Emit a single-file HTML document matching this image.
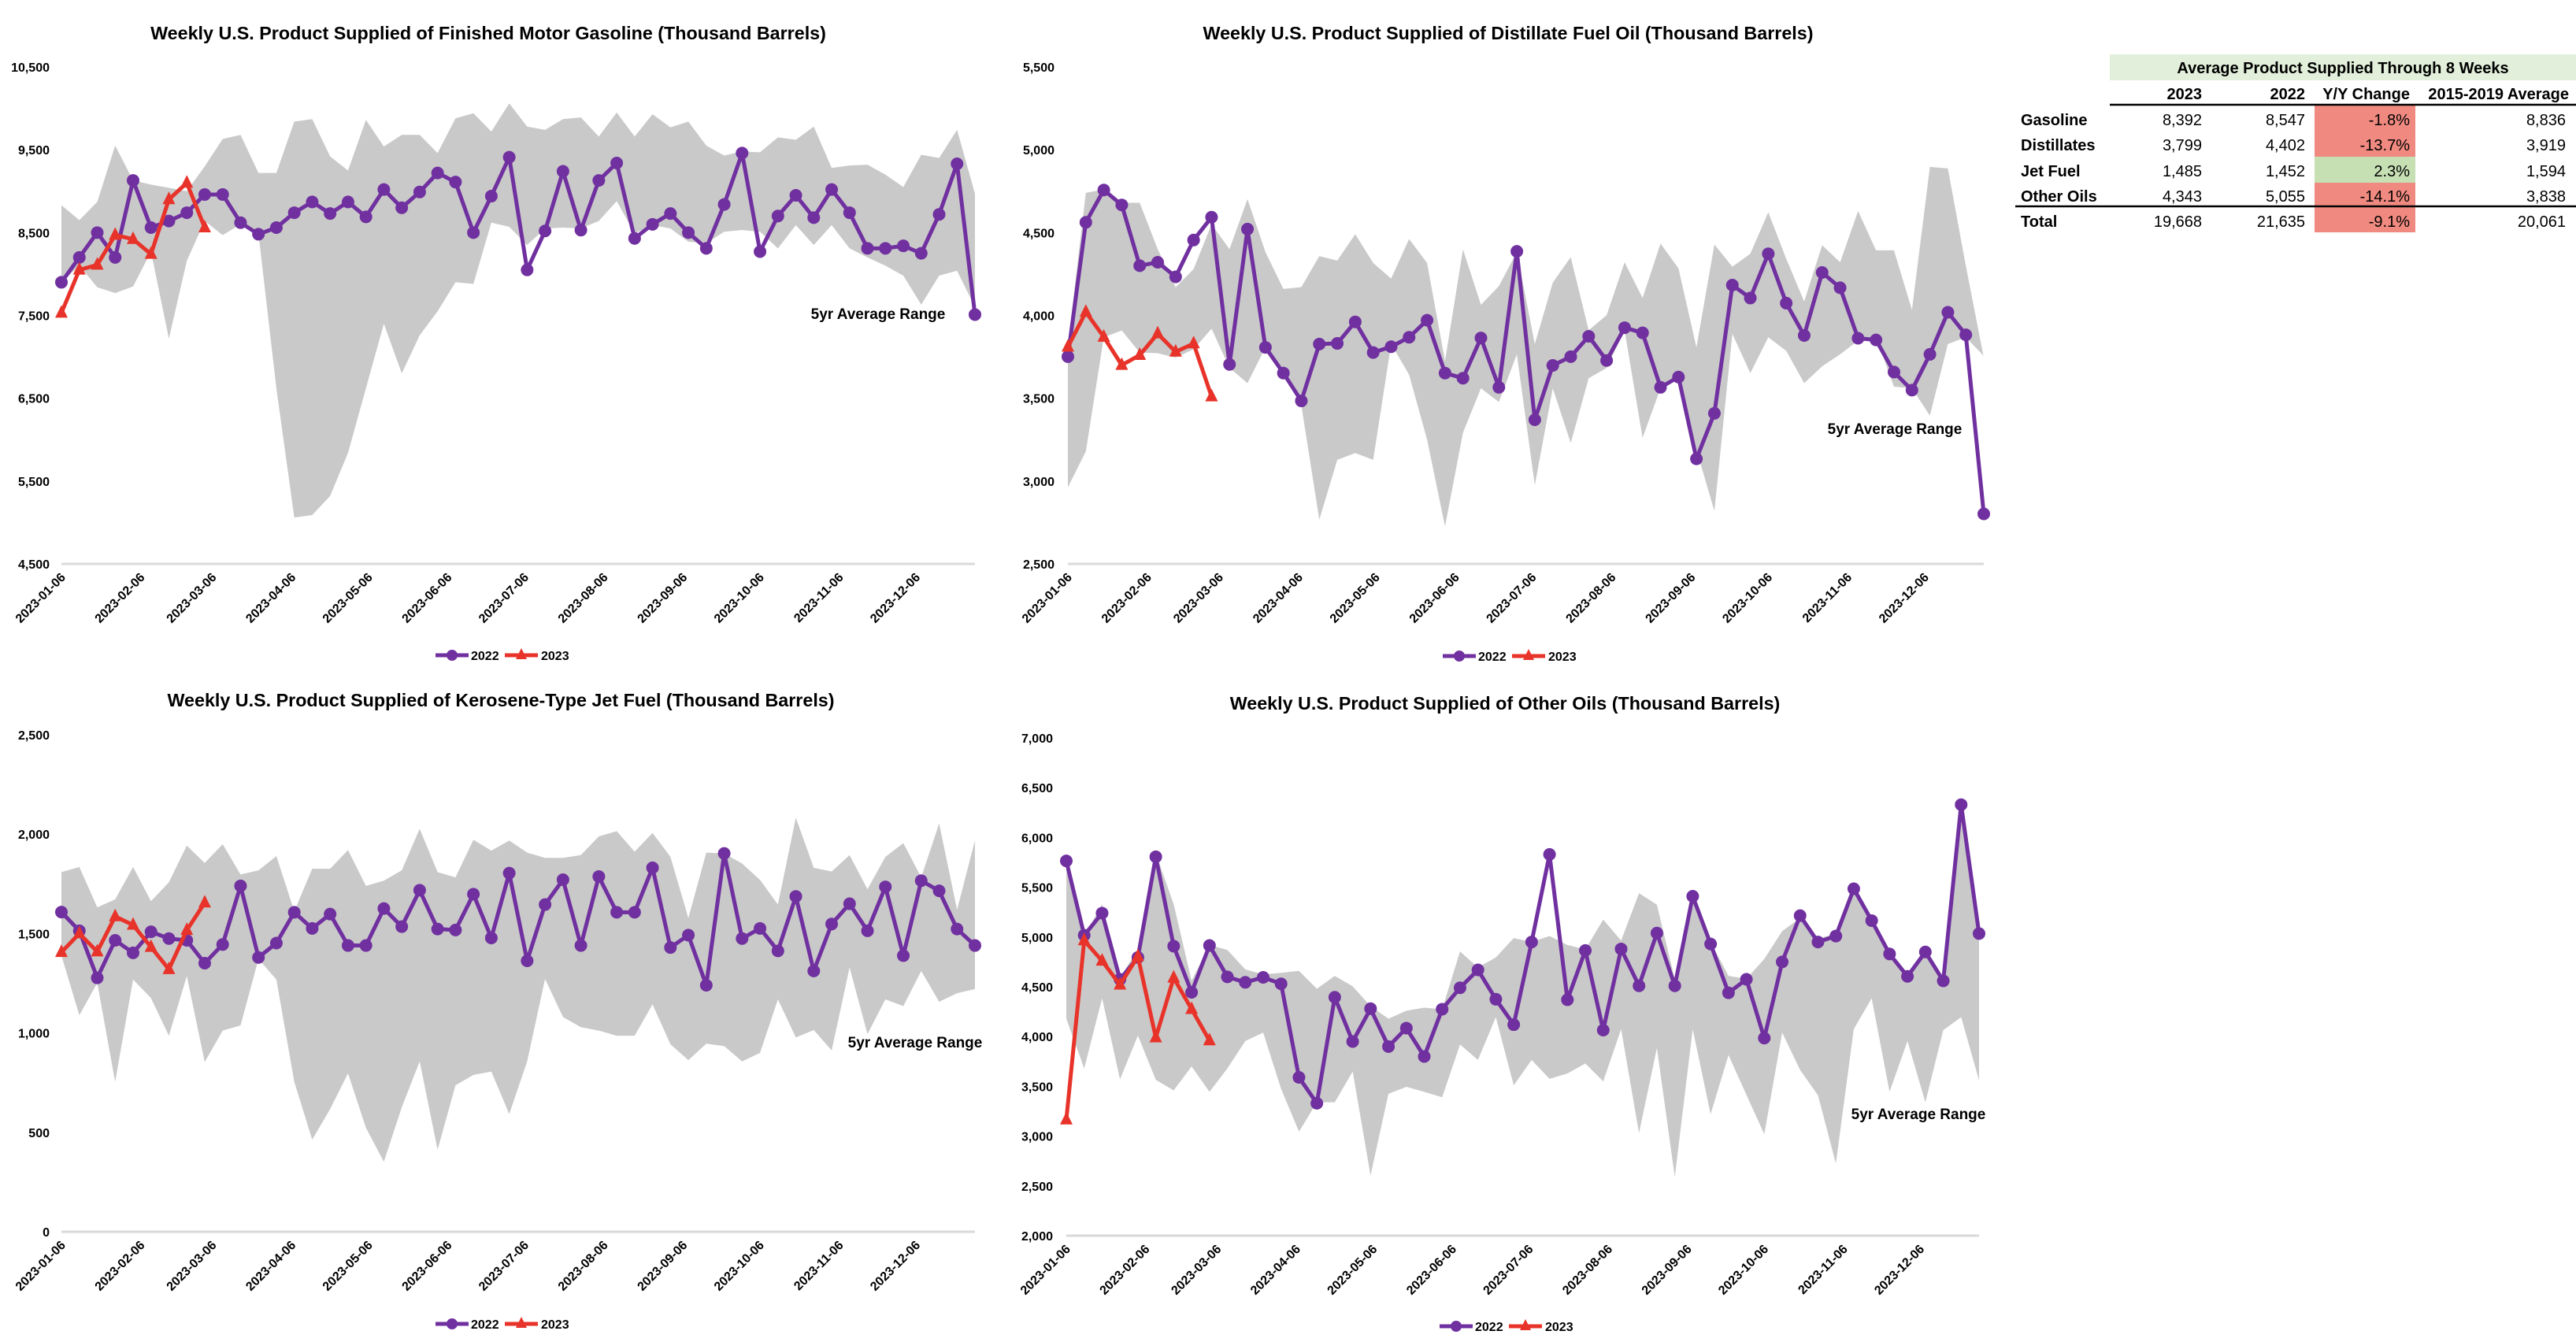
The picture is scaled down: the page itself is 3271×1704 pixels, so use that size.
<!DOCTYPE html>
<html><head><meta charset="utf-8"><style>
html,body{margin:0;padding:0;background:#fff;}
svg{display:block;font-family:"Liberation Sans",sans-serif;}
</style></head><body>
<svg id="root" width="3271" height="1704" viewBox="0 0 3271 1704" xmlns="http://www.w3.org/2000/svg">
<g font-size="20">
<rect x="2679" y="69" width="592" height="33" fill="#e2efda"/>
<text x="2975" y="93" text-anchor="middle" font-weight="bold">Average Product Supplied Through 8 Weeks</text>
<rect x="2939" y="134" width="128" height="32" fill="#f08a80"/>
<rect x="2939" y="166" width="128" height="33" fill="#f08a80"/>
<rect x="2939" y="199" width="128" height="33" fill="#c6e0b4"/>
<rect x="2939" y="232" width="128" height="31" fill="#f08a80"/>
<rect x="2939" y="263" width="128" height="32" fill="#f08a80"/>
<g font-weight="bold" text-anchor="end">
<text x="2796" y="126">2023</text><text x="2927" y="126">2022</text><text x="3060" y="126">Y/Y Change</text><text x="3262" y="126">2015-2019 Average</text>
</g>
<line x1="2679" y1="133" x2="3271" y2="133" stroke="#000" stroke-width="2.5"/>
<line x1="2559" y1="262" x2="3271" y2="262" stroke="#000" stroke-width="2.5"/>
<g font-weight="bold">
<text x="2566" y="159">Gasoline</text><text x="2566" y="191">Distillates</text><text x="2566" y="224">Jet Fuel</text><text x="2566" y="256">Other Oils</text><text x="2566" y="288">Total</text>
</g>
<g text-anchor="end">
<text x="2796" y="159">8,392</text><text x="2927" y="159">8,547</text><text x="3060" y="159">-1.8%</text><text x="3258" y="159">8,836</text>
<text x="2796" y="191">3,799</text><text x="2927" y="191">4,402</text><text x="3060" y="191">-13.7%</text><text x="3258" y="191">3,919</text>
<text x="2796" y="224">1,485</text><text x="2927" y="224">1,452</text><text x="3060" y="224">2.3%</text><text x="3258" y="224">1,594</text>
<text x="2796" y="256">4,343</text><text x="2927" y="256">5,055</text><text x="3060" y="256">-14.1%</text><text x="3258" y="256">3,838</text>
<text x="2796" y="288">19,668</text><text x="2927" y="288">21,635</text><text x="3060" y="288">-9.1%</text><text x="3258" y="288">20,061</text>
</g>
</g>
</svg>
<script>
const xTickLabels = ["2023-01-06","2023-02-06","2023-03-06","2023-04-06","2023-05-06","2023-06-06","2023-07-06","2023-08-06","2023-09-06","2023-10-06","2023-11-06","2023-12-06"];
const xTickDays = [0,31,59,90,120,151,181,212,243,273,304,334];

const gasTicks = [4500,5500,6500,7500,8500,9500,10500];
const gas2022 = [7900,8200,8500,8200,9130,8560,8640,8740,8960,8960,8620,8480,8560,8740,8870,8730,8870,8690,9020,8800,8990,9220,9110,8500,8940,9410,8050,8520,9240,8530,9130,9340,8430,8600,8730,8500,8310,8840,9460,8270,8700,8950,8680,9020,8740,8310,8310,8340,8250,8720,9330,7510];
const gas2023 = [7530,8050,8110,8470,8420,8240,8900,9100,8560];
const gasUpper = [8830,8650,8870,9550,9130,9080,9040,9000,9300,9630,9680,9220,9220,9840,9870,9420,9250,9860,9540,9680,9680,9460,9880,9940,9720,10060,9780,9740,9870,9890,9660,9950,9660,9930,9770,9840,9550,9430,9480,9470,9650,9620,9780,9280,9310,9320,9200,9050,9440,9400,9740,8970];
const gasLower = [7900,8100,7840,7770,7850,8270,7220,8160,8640,8470,8600,8490,6620,5060,5090,5320,5840,6620,7400,6800,7260,7550,7900,7880,8620,8570,8350,8550,8560,8550,8640,8880,8490,8590,8550,8390,8370,8510,8530,8510,8310,8590,8350,8590,8310,8200,8100,7980,7630,7980,8040,7600];

const distTicks = [2500,3000,3500,4000,4500,5000,5500];
const dist2022 = [3751,4562,4757,4667,4300,4321,4233,4455,4593,3704,4521,3807,3652,3484,3827,3831,3961,3776,3811,3868,3971,3652,3621,3864,3566,4387,3370,3698,3751,3874,3728,3926,3895,3566,3628,3134,3409,4183,4105,4372,4074,3879,4259,4167,3862,3852,3658,3549,3765,4019,3883,2802];
const dist2023 = [3810,4020,3870,3700,3760,3890,3780,3830,3510];
const distUpper = [3820,4740,4760,4680,4680,4400,4170,4280,4550,4400,4702,4383,4160,4171,4358,4331,4490,4317,4222,4461,4317,3724,4399,4064,4177,4383,3827,4198,4352,3910,4002,4321,4105,4434,4284,3807,4428,4294,4372,4623,4342,4084,4424,4321,4630,4393,4393,4033,4897,4887,4300,3745];
const distLower = [2963,3179,3868,3909,3776,3772,3745,3796,3920,3683,3591,3807,3673,3457,2767,3128,3169,3128,3827,3642,3251,2726,3292,3560,3477,3765,2975,3560,3230,3621,3683,3909,3261,3560,3642,3189,2819,3889,3652,3868,3786,3591,3693,3765,3848,3868,3570,3560,3395,3827,3868,3755];

const jetTicks = [0,500,1000,1500,2000,2500];
const jet2022 = [1608,1514,1277,1466,1403,1509,1475,1466,1351,1445,1740,1380,1452,1607,1526,1598,1440,1440,1626,1535,1718,1523,1518,1698,1478,1804,1363,1646,1771,1440,1787,1607,1607,1831,1430,1492,1240,1903,1475,1526,1413,1687,1312,1548,1650,1514,1735,1389,1766,1715,1523,1440];
const jet2023 = [1406,1500,1409,1586,1543,1432,1320,1517,1655];
const jetUpper = [1809,1835,1632,1672,1835,1663,1758,1943,1855,1950,1797,1818,1890,1612,1826,1826,1920,1740,1766,1818,2027,1809,1783,1972,1917,1968,1907,1881,1881,1895,1989,2015,1912,2006,1886,1578,1907,1903,1852,1770,1646,2083,1831,1812,1895,1723,1886,1955,1783,2054,1620,1968];
const jetLower = [1389,1089,1252,754,1269,1175,986,1286,854,1012,1038,1372,1269,754,463,617,797,523,352,626,857,412,737,789,806,592,857,1272,1080,1029,1012,986,986,1144,943,863,946,934,857,900,1169,977,1015,912,1329,994,1169,1135,1312,1157,1200,1221];

const othTicks = [2000,2500,3000,3500,4000,4500,5000,5500,6000,6500,7000];
const oth2022 = [5765,5018,5240,4575,4795,5806,4908,4445,4915,4600,4545,4595,4530,3590,3330,4395,3950,4280,3900,4085,3800,4275,4490,4670,4375,4120,4950,5830,4370,4865,4065,4880,4510,5040,4510,5410,4930,4440,4575,3985,4750,5215,4950,5010,5485,5165,4830,4605,4850,4560,6330,5035];
const oth2023 = [3165,4965,4760,4520,4805,3990,4590,4275,3960];
const othUpper = [5700,5010,5330,4590,4880,5840,5330,4560,4920,4870,4675,4625,4640,4660,4480,4610,4505,4305,4180,4260,4290,4275,4855,4695,4795,4990,4950,5010,4920,4875,5175,4965,5440,5325,4575,5430,4950,4610,4580,4780,5060,5190,4985,5035,5480,5210,4850,4605,4860,4560,6330,5035];
const othLower = [4180,3680,4385,3570,4010,3565,3460,3700,3445,3680,3955,4040,3475,3045,3340,3340,3650,2605,3425,3495,3445,3390,3920,3765,4195,3510,3765,3575,3630,3730,3550,4075,3030,3885,2590,4075,3220,3815,3415,3020,4040,3665,3410,2725,4075,4385,3445,3955,3340,4065,4195,3560];

const NS = "http://www.w3.org/2000/svg";
const root = document.getElementById("root");
function mk(tag, attrs, parent) {
  const e = document.createElementNS(NS, tag);
  for (const k in attrs) e.setAttribute(k, attrs[k]);
  parent.appendChild(e);
  return e;
}
function fmt(v){return v.toLocaleString("en-US");}

function drawChart(o) {
  const g = mk("g", {}, root);
  
  
  const xs = d => o.x0 + d * (o.x1 - o.x0) / 357;
  const ys = v => o.y1 - (v - o.min) * (o.y1 - o.y0) / (o.max - o.min);
  const t = mk("text", {x:o.tx, y:o.ty, "text-anchor":"middle", "font-size":"23.3", "font-weight":"bold"}, g);
  t.textContent = o.title;
  
  
  let pts = o.upper.map((v,i)=>xs(i*7)+","+ys(v));
  for (let i=o.lower.length-1;i>=0;i--) pts.push(xs(i*7)+","+ys(o.lower[i]));
  const band = mk("polygon", {points:pts.join(" "), fill:"#c9c9c9"}, g);
  
  
  const bl = mk("line", {x1:o.x0, x2:o.x1, y1:o.y1, y2:o.y1, stroke:"#d9d9d9", "stroke-width":"3"}, g);
  
  
  o.ticks.forEach(v=>{
    const tt = mk("text", {x:o.lx, y:ys(v)+6, "text-anchor":"end", "font-size":"16", "font-weight":"bold"}, g);
    tt.textContent = fmt(v);
    
    
  });
  xTickLabels.forEach((lab,i)=>{
    const x = xs(xTickDays[i]);
    const tt = mk("text", {x:x+6, y:o.y1+18, "text-anchor":"end", "font-size":"16", "font-weight":"bold", transform:"rotate(-45 "+(x+6)+" "+(o.y1+18)+")"}, g);
    tt.textContent = lab;
    
    
  });
  const l1 = mk("polyline", {points:o.s22.map((v,i)=>xs(i*7)+","+ys(v)).join(" "), fill:"none", stroke:"#7030a0", "stroke-width":"5", "stroke-linejoin":"round"}, g);
  
  
  o.s22.forEach((v,i)=>{
    const c = mk("circle", {cx:xs(i*7), cy:ys(v), r:"8", fill:"#7030a0"}, g);
    
    
  });
  const l2 = mk("polyline", {points:o.s23.map((v,i)=>xs(i*7)+","+ys(v)).join(" "), fill:"none", stroke:"#e8332a", "stroke-width":"5", "stroke-linejoin":"round"}, g);
  
  
  o.s23.forEach((v,i)=>{
    const x = xs(i*7), y = ys(v);
    const p = mk("polygon", {points:(x)+","+(y-10)+" "+(x-8)+","+(y+6)+" "+(x+8)+","+(y+6), fill:"#e8332a"}, g);
    
    
  });
  const rl = mk("text", {x:o.rx, y:o.ry, "text-anchor":"middle", "font-size":"19", "font-weight":"bold"}, g);
  rl.textContent = "5yr Average Range";
  
  
  const lg = mk("g", {}, g);
  
  
  const lx = o.legx;
  const a = mk("line", {x1:lx, x2:lx+42, y1:o.legy, y2:o.legy, stroke:"#7030a0", "stroke-width":"5"}, lg);
  
  
  mk("circle", {cx:lx+21, cy:o.legy, r:"7", fill:"#7030a0"}, lg);
  const at = mk("text", {x:lx+45, y:o.legy+6, "font-size":"16", "font-weight":"bold"}, lg);
  at.textContent = "2022";
  
  
  const b = mk("line", {x1:lx+88, x2:lx+130, y1:o.legy, y2:o.legy, stroke:"#e8332a", "stroke-width":"5"}, lg);
  
  
  mk("polygon", {points:(lx+109)+","+(o.legy-9)+" "+(lx+102)+","+(o.legy+5)+" "+(lx+116)+","+(o.legy+5), fill:"#e8332a"}, lg);
  const bt = mk("text", {x:lx+134, y:o.legy+6, "font-size":"16", "font-weight":"bold"}, lg);
  bt.textContent = "2023";
  
  
}

drawChart({name:"gasoline-chart", title:"Weekly U.S. Product Supplied of Finished Motor Gasoline (Thousand Barrels)", tx:620, ty:50,
  x0:78, x1:1238, y0:85, y1:716, min:4500, max:10500, ticks:gasTicks, lx:63,
  s22:gas2022, s23:gas2023, upper:gasUpper, lower:gasLower, rx:1115, ry:405, legx:553, legy:832});
drawChart({name:"distillate-chart", title:"Weekly U.S. Product Supplied of Distillate Fuel Oil (Thousand Barrels)", tx:1915, ty:50,
  x0:1356, x1:2519, y0:85, y1:716, min:2500, max:5500, ticks:distTicks, lx:1339,
  s22:dist2022, s23:dist2023, upper:distUpper, lower:distLower, rx:2406, ry:551, legx:1832, legy:833});
drawChart({name:"jet-fuel-chart", title:"Weekly U.S. Product Supplied of Kerosene-Type Jet Fuel (Thousand Barrels)", tx:636, ty:897,
  x0:78, x1:1238, y0:933, y1:1564, min:0, max:2500, ticks:jetTicks, lx:63,
  s22:jet2022, s23:jet2023, upper:jetUpper, lower:jetLower, rx:1162, ry:1330, legx:553, legy:1681});
drawChart({name:"other-oils-chart", title:"Weekly U.S. Product Supplied of Other Oils (Thousand Barrels)", tx:1911, ty:901,
  x0:1354, x1:2513, y0:937, y1:1569, min:2000, max:7000, ticks:othTicks, lx:1337,
  s22:oth2022, s23:oth2023, upper:othUpper, lower:othLower, rx:2436, ry:1421, legx:1828, legy:1684});
</script>
</body></html>
